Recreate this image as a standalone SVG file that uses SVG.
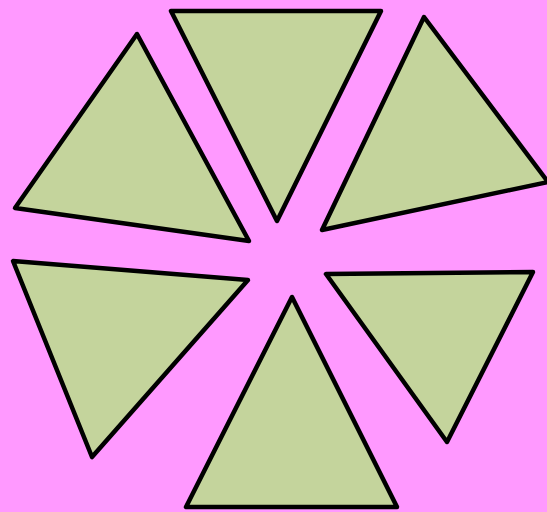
<svg xmlns="http://www.w3.org/2000/svg" width="547" height="512" viewBox="0 0 547 512">
<style>.t{fill:#c4d49c;stroke:#000;stroke-width:4.5;stroke-linejoin:round}</style>
<rect width="547" height="512" fill="#ff99ff"/>
<g id="t1"><polygon class="t" points="171,11 381,11 277,221"/></g>
<g id="t2"><polygon class="t" points="137,34 15,208 249,241"/></g>
<g id="t3"><polygon class="t" points="424,17 548,182 322,230"/></g>
<g id="t4"><polygon class="t" points="13,261 248,280 92,457"/></g>
<g id="t5"><polygon class="t" points="292,297 186,507 397,507"/></g>
<g id="t6"><polygon class="t" points="326,274 533,272 447,442"/></g>
</svg>
